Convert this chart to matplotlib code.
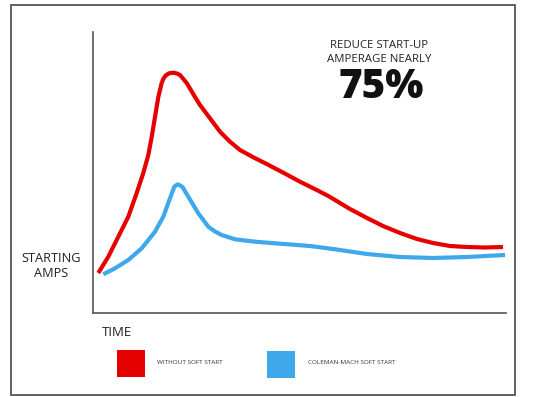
import matplotlib
matplotlib.use("Agg")
import matplotlib.pyplot as plt
from matplotlib.patches import Rectangle

# Data (arbitrary units)
red_x = [5.3, 15.3, 25.3, 35.3, 43.7, 50.3, 55.3, 58.7, 62, 65.3, 68.7, 70.5, 72.7, 76, 80.3, 84, 87,
         93.7, 102, 107, 117, 127, 137, 147, 160.3, 173.7, 190.3, 207, 223.7, 235.3, 257, 274, 290,
         307, 324, 340, 357, 374, 392, 410]
red_y = [40, 56.3, 76.3, 96.3, 120, 140, 158, 176, 196, 216, 230, 234.5, 237.5, 239.7, 240.3, 239.5, 238,
         230, 216, 208, 194.7, 181.3, 171.3, 163, 155.7, 149, 140.3, 131.3, 123, 117, 104, 95, 87,
         80, 74, 70, 67, 66, 65.5, 66]
blue_x = [10.3, 22, 35.3, 48.7, 62, 70.3, 77, 81.3, 84.7, 89.3, 95.3, 105.3, 115.3, 122, 128.7, 142,
          162, 182, 217, 240, 274, 307, 340, 374, 412]
blue_y = [38.7, 44.7, 53, 64.7, 81.3, 96.3, 114.7, 126.3, 128.7, 126.3, 116.3, 99.7, 86.3, 81.5, 78, 73.7,
          71.3, 69.7, 67, 64, 59, 56, 55, 56, 58]

series_labels = ["WITHOUT SOFT START", "COLEMAN-MACH SOFT START"]
headline = ["REDUCE START-UP", "AMPERAGE NEARLY"]
big_number = "75%"
y_label = "STARTING\nAMPS"
x_label = "TIME"

RED = "#e60000"
BLUE = "#3ea8ea"
GRAY = "#555555"
W, H = 533, 397

fig = plt.figure(figsize=(W / 100, H / 100), dpi=100)
fig.patch.set_facecolor("white")
plt.rcParams['font.family'] = ['Open Sans', 'DejaVu Sans']

def fx(px):
    return px / W

def fy(py):
    return 1 - py / H

# outer frame
fig.add_artist(Rectangle((fx(11), fy(395)), fx(515) - fx(11), fy(5) - fy(395),
                         transform=fig.transFigure, fill=False, edgecolor=GRAY, linewidth=1.3))

ax = fig.add_axes([fx(93), fy(313), fx(506) - fx(93), fy(32) - fy(313)])
ax.set_xlim(0, 413)
ax.set_ylim(0, 281)
for s in ["top", "right"]:
    ax.spines[s].set_visible(False)
for s in ["left", "bottom"]:
    ax.spines[s].set_color(GRAY)
    ax.spines[s].set_linewidth(1.2)
ax.set_xticks([])
ax.set_yticks([])

ax.plot(red_x, red_y, color=RED, linewidth=3.0, solid_joinstyle="round", solid_capstyle="butt")
ax.plot(blue_x, blue_y, color=BLUE, linewidth=3.0, solid_joinstyle="round", solid_capstyle="butt")

# headline text
fig.text(fx(379), fy(45), headline[0], ha="center", va="center", fontsize=8.2, color="#222222")
fig.text(fx(379), fy(60), headline[1], ha="center", va="center", fontsize=8.2, color="#222222")
fig.text(fx(381), fy(88), big_number, ha="center", va="center", fontsize=29, fontweight=800, color="#111111")

# axis labels
fig.text(fx(51), fy(266), y_label, ha="center", va="center", fontsize=9.2,
         color="#222222", linespacing=1.15)
fig.text(fx(102), fy(332), x_label, ha="left", va="center", fontsize=9.5, color="#222222")

# legend
fig.add_artist(Rectangle((fx(117), fy(377)), fx(145) - fx(117), fy(350) - fy(377),
                         transform=fig.transFigure, facecolor=RED, edgecolor="none"))
fig.add_artist(Rectangle((fx(267), fy(378)), fx(295) - fx(267), fy(351) - fy(378),
                         transform=fig.transFigure, facecolor=BLUE, edgecolor="none"))
fig.text(fx(157), fy(363), series_labels[0], ha="left", va="center", fontsize=4.6, color="#333333")
fig.text(fx(308), fy(363), series_labels[1], ha="left", va="center", fontsize=4.6, color="#333333")

fig.savefig("out.png", dpi=100, facecolor="white")
